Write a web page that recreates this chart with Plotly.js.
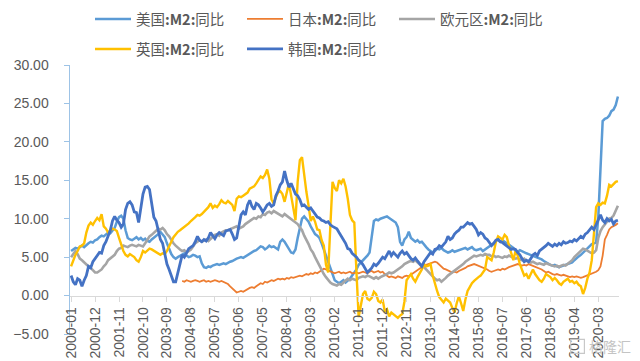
<!DOCTYPE html>
<html>
<head>
<meta charset="utf-8">
<script src="https://cdn.plot.ly/plotly-3.0.1.min.js"></script>
<style>html,body{margin:0;padding:0;background:#fff;}#chart{width:640px;height:361px;}</style>
</head>
<body>
<div id="chart"></div>
<script>
// Monthly categories 2000-01 .. 2020-12
var months = [];
for (var yr = 2000; yr <= 2020; yr++) {
  for (var mo = 1; mo <= 12; mo++) {
    months.push(yr + '-' + (mo < 10 ? '0' + mo : '' + mo));
  }
}
var xTickLabels = ['2000-01','2000-12','2001-11','2002-10','2003-09','2004-08','2005-07','2006-06','2007-05','2008-04','2009-03','2010-02','2011-01','2011-12','2012-11','2013-10','2014-09','2015-08','2016-07','2017-06','2018-05','2019-04','2020-03'];
var yTickValues = [-5, 0, 5, 10, 15, 20, 25, 30];
var yGridValues = [5, 10, 15, 20, 25, 30];

var seriesNames = ['美国<b>:M2:</b>同比', '日本<b>:M2:</b>同比', '欧元区<b>:M2:</b>同比', '英国<b>:M2:</b>同比', '韩国<b>:M2:</b>同比'];

var usM2 = [
 5.8, 6.0, 6.2, 6.1, 6.3, 6.5, 6.3, 6.6, 6.8, 7.0, 6.9, 7.2,
 7.3, 7.6, 7.8, 7.7, 8.0, 8.2, 8.1, 8.4, 8.8, 9.6, 10.2, 10.4,
 10.0, 8.5, 7.5, 7.3, 7.2, 7.4, 7.6, 7.3, 7.5, 7.2, 7.4, 7.1,
 7.0, 7.3, 7.5, 7.7, 8.0, 8.3, 8.0, 7.6, 6.8, 6.0, 5.4, 5.0,
 4.8, 5.0, 5.2, 5.3, 5.5, 5.2, 5.0, 5.1, 5.3, 5.2, 5.0, 5.1,
 4.2, 3.7, 3.6, 3.8, 3.7, 3.9, 4.0, 4.1, 4.0, 4.1, 4.2, 4.1,
 4.3, 4.4, 4.5, 4.7, 4.8, 4.9, 5.0, 4.9, 5.1, 5.2, 5.4, 5.6,
 5.8, 5.9, 6.2, 6.4, 6.3, 6.0, 6.2, 6.5, 6.3, 6.4, 6.2, 6.0,
 7.0, 7.3, 7.0, 6.5, 6.0, 5.6, 5.5, 6.0, 7.5, 9.0, 10.0, 10.3,
 10.0, 9.6, 9.0, 8.5, 8.0, 7.8, 7.5, 6.8, 6.0, 5.2, 4.3, 3.5,
 2.6, 2.0, 1.8, 1.6, 1.8, 2.0, 1.7, 1.9, 2.2, 2.6, 3.0, 3.4,
 4.0, 4.3, 4.6, 4.8, 5.2, 5.6, 7.5, 9.7, 9.9, 9.8, 10.0, 10.1,
 10.3, 10.3, 10.1, 9.9, 9.7, 9.5, 8.9, 7.0, 6.5, 7.3, 7.6, 8.3,
 7.5, 7.3, 7.0, 7.2, 6.9, 7.0, 6.6, 6.3, 6.0, 5.8, 5.6, 5.8,
 6.1, 6.0, 6.2, 5.9, 5.8, 5.6, 5.7, 5.9, 5.7, 5.8, 5.9, 6.0,
 6.1, 6.2, 6.0, 6.1, 6.3, 6.0, 5.9, 6.0, 6.1, 5.8, 6.0, 6.1,
 6.3, 6.6, 6.8, 7.1, 7.3, 7.0, 7.2, 7.0, 6.8, 6.6, 6.5, 6.2,
 5.8, 5.7, 5.9, 5.8, 5.6, 5.5, 5.4, 5.3, 5.2, 5.1, 5.0, 4.8,
 4.7, 4.5, 4.3, 4.1, 4.0, 3.9, 4.0, 3.8, 3.7, 3.8, 3.9, 3.9,
 4.0, 4.2, 4.3, 4.6, 4.9, 5.1, 5.3, 5.6, 5.9, 6.1, 6.4, 6.7,
 6.8, 6.9, 10.2, 17.0, 22.7, 23.0, 23.1, 23.4, 24.0, 24.2, 24.8, 25.9
];

var japanM2 = [
 null, null, null, null, null, null, null, null, null, null, null, null,
 null, null, null, null, null, null, null, null, null, null, null, null,
 null, null, null, null, null, null, null, null, null, null, null, null,
 null, null, null, null, null, null, null, null, null, null, null, null,
 null, null, null, 1.9, 1.8, 2.0, 1.9, 1.8, 1.9, 2.0, 1.9, 1.8,
 1.9, 2.0, 1.8, 1.9, 1.8, 1.9, 2.0, 1.9, 1.8, 1.9, 1.8, 1.7,
 1.5, 1.2, 0.9, 0.6, 0.4, 0.5, 0.6, 0.5, 0.7, 0.8, 1.0, 1.1,
 1.0, 1.2, 1.4, 1.6, 1.5, 1.8, 1.7, 1.9, 2.0, 1.9, 2.1, 2.2,
 2.1, 2.2, 2.1, 2.3, 2.2, 2.4, 2.3, 2.4, 2.5, 2.6, 2.5, 2.7,
 2.8, 2.7, 2.9, 2.8, 3.0, 2.9, 3.1, 3.3, 3.5, 3.4, 3.3, 3.2,
 3.0, 2.9, 3.0, 3.1, 2.9, 3.0, 2.9, 3.0, 3.1, 2.9, 3.0, 3.0,
 2.9, 3.0, 3.1, 3.0, 2.9, 3.1, 3.2, 3.0, 3.1, 3.2, 3.0, 3.1,
 2.8, 2.6, 2.4, 2.5, 2.4, 2.3, 2.5, 2.4, 2.3, 2.5, 2.6, 2.5,
 2.7, 3.0, 3.2, 3.3, 3.6, 3.8, 3.9, 4.0, 4.1, 4.2, 4.3, 4.4,
 4.3, 4.0, 3.7, 3.5, 3.4, 3.3, 3.2, 3.0, 3.1, 3.0, 3.2, 3.3,
 3.5, 3.6, 3.8, 3.9, 4.0, 4.1, 4.0, 3.9, 3.8, 3.7, 3.6, 3.4,
 3.2, 3.1, 3.2, 3.3, 3.4, 3.3, 3.5, 3.4, 3.6, 3.7, 3.8, 3.9,
 4.0, 4.1, 4.0, 3.9, 4.0, 3.9, 4.1, 4.0, 3.9, 3.8, 3.7, 3.6,
 3.4, 3.2, 3.0, 3.1, 2.9, 2.8, 2.7, 2.8, 2.7, 2.6, 2.7, 2.6,
 2.5, 2.4, 2.5, 2.4, 2.5, 2.4, 2.3, 2.4, 2.5, 2.6, 2.7, 2.8,
 3.0, 3.1, 3.3, 3.8, 5.2, 7.3, 7.9, 8.6, 8.9, 9.0, 9.2, 9.4
];

var euroM2 = [
 5.0, 5.4, 5.8, 5.4, 4.8, 4.6, 4.3, 4.0, 3.8, 3.6, 3.3, 3.0,
 3.0, 3.2, 3.4, 3.8, 4.1, 4.6, 4.8, 5.0, 5.3, 5.8, 6.1, 6.2,
 6.5, 6.4, 6.3, 6.5, 6.6, 6.5, 6.4, 6.6, 6.5, 6.4, 6.8, 7.2,
 7.7, 7.9, 8.2, 8.5, 8.7, 8.6, 8.8, 8.5, 8.0, 7.7, 7.2, 6.8,
 6.5, 6.2, 6.0, 5.8, 5.9, 5.6, 5.8, 6.0, 6.4, 6.8, 7.0, 7.2,
 7.0, 7.2, 7.3, 7.1, 7.4, 7.6, 7.9, 8.0, 7.8, 8.2, 8.4, 8.5,
 8.5, 8.6, 8.8, 8.9, 9.0, 8.7, 8.8, 9.0, 9.3, 9.5, 9.7, 9.9,
 10.1, 10.0, 10.3, 10.2, 10.6, 10.5, 10.8, 10.9, 10.7, 11.0, 10.8, 10.6,
 10.5, 10.3, 10.6, 10.4, 10.2, 10.0, 9.7, 9.5, 9.3, 8.9, 8.5, 7.8,
 7.3, 6.7, 6.0, 5.6, 5.0, 4.4, 3.8, 3.3, 2.8, 2.4, 2.0, 1.7,
 1.5, 1.4, 1.3, 1.5, 1.4, 1.7, 2.0, 2.2, 2.0, 2.2, 2.1, 2.0,
 2.3, 2.4, 2.5, 2.4, 2.6, 2.5, 2.3, 2.2, 2.4, 2.2, 2.4, 2.5,
 2.6, 2.8, 3.0, 2.9, 3.0, 3.2, 3.4, 3.5, 3.8, 4.1, 4.3, 4.4,
 4.5, 4.4, 4.6, 4.3, 4.1, 3.8, 3.7, 3.4, 3.0, 2.7, 2.4, 2.2,
 2.0, 2.1, 1.8, 2.0, 2.3, 2.6, 2.8, 3.0, 3.2, 3.4, 3.6, 3.9,
 4.1, 4.4, 4.6, 4.8, 5.0, 5.2, 5.1, 5.2, 5.3, 5.2, 5.4, 5.3,
 5.3, 5.1, 5.2, 5.0, 5.1, 5.0, 4.9, 5.1, 5.0, 5.2, 5.0, 4.9,
 4.8, 4.9, 4.7, 4.6, 4.8, 4.5, 4.4, 4.3, 4.4, 4.2, 4.1, 4.2,
 4.1, 4.0, 4.2, 4.1, 4.0, 3.9, 3.8, 3.9, 3.7, 3.9, 4.0, 3.9,
 4.1, 4.3, 4.6, 5.0, 5.3, 5.5, 5.8, 6.1, 6.0, 5.8, 5.6, 5.5,
 5.6, 5.9, 7.5, 8.4, 8.9, 9.2, 9.6, 10.0, 10.1, 10.4, 11.0, 11.7
];

var ukM2 = [
 3.8, 4.6, 5.3, 5.8, 6.4, 6.5, 6.8, 8.2, 9.1, 9.5, 9.2, 9.7,
 10.1, 9.8, 10.6, 9.0, 8.7, 8.2, 8.4, 8.7, 8.6, 8.4, 7.5, 6.6,
 5.8, 5.3, 5.1, 5.4, 5.2, 5.0, 4.6, 4.4, 5.0, 5.8, 5.6, 5.9,
 6.1, 6.0, 5.8, 5.6, 5.4, 5.3, 5.5, 5.4, 5.8, 6.3, 7.0, 7.6,
 8.0, 8.3, 8.5, 8.7, 8.9, 9.2, 9.4, 9.7, 9.9, 10.2, 10.5, 10.4,
 10.6, 10.9, 11.2, 11.5, 12.0, 11.4, 11.7, 11.5, 11.9, 12.4, 12.1, 12.0,
 12.3, 12.1, 11.8, 11.0, 12.6, 12.9, 12.8, 13.0, 13.2, 13.4, 13.9, 14.1,
 14.2, 14.6, 15.0, 15.5, 15.3, 15.7, 16.4, 15.2, 12.5, 12.0, 12.8, 13.4,
 13.6, 13.2, 12.2, 13.4, 14.6, 13.0, 11.5, 9.8, 14.8, 17.6, 18.0, 15.5,
 13.5, 11.7, 9.7, 10.3, 9.6, 8.6, 8.5, 7.2, 6.5, 4.0, 3.0, 9.0,
 14.8, 14.0, 13.6, 15.0, 14.6, 15.2, 14.2, 12.6, 10.5, 9.8, 9.5, 3.0,
 -2.8, -1.3, 0.2, 0.6, -0.4, -0.6, -0.3, 0.5, 0.2, -0.7, -0.9, -0.5,
 -2.1, -1.8, -2.7, -2.2, -2.4, -2.6, -2.9, -2.6, -2.4, -0.8, 2.0, 2.4,
 2.8, 2.2, 1.8, 2.4, 2.9, 3.4, 4.1, 3.8, 3.9, 4.1, 2.6, 1.5,
 0.6, -0.2, -0.5, -0.9, -0.4, -0.6, -0.9, -1.6, -2.2, -1.0, -0.1, -1.0,
 -2.0, -0.5, 0.6, 1.1, 1.6, 1.9, 2.2, 2.4, 2.6, 3.0, 3.4, 5.0,
 4.8, 4.6, 5.6, 7.0, 7.7, 7.5, 7.3, 7.9, 7.6, 6.5, 5.5, 4.6,
 5.8, 5.2, 4.1, 3.4, 2.6, 2.8, 2.2, 2.8, 3.4, 2.8, 2.4, 2.0,
 1.8, 2.2, 2.8, 2.6, 2.4, 2.0, 2.3, 2.0, 1.6, 1.4, 1.8, 2.0,
 2.2, 1.8, 1.9, 1.6, 1.8, 1.4, 1.2, 0.2, 1.0, 2.2, 3.0, 4.6,
 7.7, 11.5, 12.0, 11.8, 12.1, 12.0, 13.0, 14.4, 14.2, 14.5, 14.8, 14.9
];

var koreaM2 = [
 2.6, 1.8, 1.4, 2.2, 2.0, 1.2, 2.0, 2.6, 3.8, 3.6, 4.4, 4.8,
 5.3, 5.6, 5.5, 6.5, 7.0, 7.7, 8.5, 9.7, 10.3, 9.8, 9.5, 8.9,
 9.3, 11.2, 12.0, 12.2, 11.8, 10.9, 10.8, 9.5, 11.5, 13.2, 14.1, 14.2,
 13.8, 12.0, 10.2, 9.7, 8.5, 7.3, 6.8, 5.5, 4.1, 3.4, 2.5, 1.8,
 1.8, 3.0, 4.0, 5.3, 5.0, 5.6, 6.1, 6.3, 6.5, 7.0, 7.7, 7.2,
 7.0, 7.3, 7.1, 7.5, 8.2, 7.8, 7.4, 7.9, 8.2, 8.0, 7.8, 8.4,
 8.5, 8.6, 8.0, 7.3, 7.5, 8.8, 10.5, 10.9, 10.5, 11.8, 12.4, 11.6,
 11.2, 12.0, 11.8, 11.4, 10.9, 11.3, 11.8, 12.0, 11.6, 11.8, 13.0, 13.6,
 14.4, 14.8, 16.2, 15.0, 14.1, 14.6, 13.8, 13.2, 13.0, 12.5, 11.7, 11.8,
 11.5, 11.2, 11.4, 11.0, 10.6, 10.2, 10.1, 9.8, 9.7, 9.5, 9.6, 9.2,
 9.0, 8.9, 8.7, 8.2, 7.7, 7.2, 6.8, 6.1, 6.0, 5.5, 5.3, 5.0,
 4.6, 4.4, 4.0, 3.4, 3.0, 3.3, 3.6, 4.1, 3.9, 4.2, 4.6, 5.0,
 4.8, 5.3, 5.8, 5.2, 5.6, 5.3, 5.0, 5.5, 5.8, 5.4, 5.6, 5.2,
 4.8, 4.6, 4.9, 4.5, 4.2, 3.8, 4.4, 4.8, 5.2, 5.6, 5.4, 6.0,
 6.1, 6.5, 6.3, 6.6, 7.0, 7.7, 7.3, 7.5, 8.0, 8.3, 8.5, 8.9,
 8.9, 9.2, 9.5, 9.3, 9.4, 9.0, 8.6, 7.9, 8.2, 8.0, 7.5, 7.3,
 6.9, 6.5, 6.8, 7.2, 7.3, 7.0, 6.9, 6.7, 6.5, 6.2, 6.0, 6.1,
 6.0, 5.6, 5.3, 4.8, 4.4, 4.6, 4.4, 4.8, 5.3, 5.5, 5.2, 5.8,
 6.0, 6.3, 6.5, 6.8, 6.6, 6.4, 6.7, 6.5, 6.8, 6.6, 7.0, 6.8,
 6.9, 7.1, 7.0, 7.3, 7.1, 7.4, 7.7, 7.5, 8.0, 8.2, 8.5, 8.9,
 8.6, 9.2, 10.0, 10.5, 9.8, 9.5, 10.0, 9.7, 9.9, 9.3, 9.7, 9.8
];

var seriesData = [usM2, japanM2, euroM2, ukM2, koreaM2];
var seriesColors = ['#5B9BD5', '#ED7D31', '#A5A5A5', '#FFC000', '#4472C4'];
var seriesWidths = [2.5, 1.8, 2.6, 2.4, 2.8];
var seriesLegends = ['legend', 'legend', 'legend', 'legend2', 'legend2'];

var traces = seriesData.map(function (vals, k) {
  return {
    type: 'scatter', mode: 'lines',
    x: months, y: vals,
    name: seriesNames[k],
    legend: seriesLegends[k],
    line: {color: seriesColors[k], width: seriesWidths[k]},
    connectgaps: false,
    hoverinfo: 'skip'
  };
});

var legendBase = {
  orientation: 'h', xref: 'container', yref: 'container',
  xanchor: 'left', yanchor: 'middle',
  entrywidth: 101, entrywidthmode: 'pixels', itemwidth: 36,
  bgcolor: 'rgba(0,0,0,0)',
  font: {family: 'Noto Sans CJK SC, sans-serif', size: 14.5, color: '#595959'}
};
var legend1 = Object.assign({}, legendBase, {x: 90 / 640, y: 1 - 19 / 361});
var legend2 = Object.assign({}, legendBase, {x: 90 / 640, y: 1 - 49 / 361});

var layout = {
  width: 640, height: 361,
  margin: {l: 70, r: 21, t: 38, b: 27},
  paper_bgcolor: '#ffffff', plot_bgcolor: 'rgba(0,0,0,0)',
  showlegend: true,
  legend: legend1,
  legend2: legend2,
  xaxis: {
    type: 'category',
    range: [-0.5, months.length - 0.5],
    tickmode: 'array', tickvals: xTickLabels, ticktext: xTickLabels,
    tickangle: -90,
    tickfont: {family: 'Liberation Sans, Arial, sans-serif', size: 14, color: '#595959'},
    showgrid: false, zeroline: false,
    showline: true, linecolor: '#D9D9D9', linewidth: 1,
    ticks: 'outside', ticklen: 5, tickcolor: '#D9D9D9', tickwidth: 1,
    anchor: 'free', position: 5 / 35
  },
  yaxis: {
    range: [-5, 30],
    tickmode: 'array', tickvals: yTickValues,
    tickformat: '.2f',
    tickfont: {family: 'Liberation Sans, Arial, sans-serif', size: 14, color: '#595959'},
    showgrid: false,
    zeroline: false,
    showline: true, linecolor: '#9DC3E6', linewidth: 1.5,
    ticks: 'outside', ticklen: 5, tickcolor: '#9DC3E6', tickwidth: 1,
    ticklabelstandoff: 12
  },
  yaxis2: {
    overlaying: 'y', side: 'left', anchor: 'x',
    range: [-5, 30],
    tickmode: 'array', tickvals: yGridValues,
    showticklabels: false, ticks: '',
    showgrid: true, gridcolor: '#D9D9D9', gridwidth: 1,
    zeroline: false, showline: false
  },
  annotations: [{
    xref: 'paper', yref: 'paper', x: 1.025, y: -0.045,
    xanchor: 'right', yanchor: 'middle', showarrow: false,
    text: '格隆汇',
    font: {family: 'Noto Sans CJK SC, sans-serif', size: 14, color: '#C4C4C4'}
  }],
  shapes: [{
    type: 'rect', xref: 'paper', yref: 'paper',
    x0: 0.912, x1: 0.937, y0: -0.072, y1: -0.02,
    line: {color: '#C8C8C8', width: 1.2}, fillcolor: 'rgba(0,0,0,0)'
  }]
};

Plotly.newPlot('chart', traces, layout, {displayModeBar: false, staticPlot: true});
</script>
</body>
</html>
